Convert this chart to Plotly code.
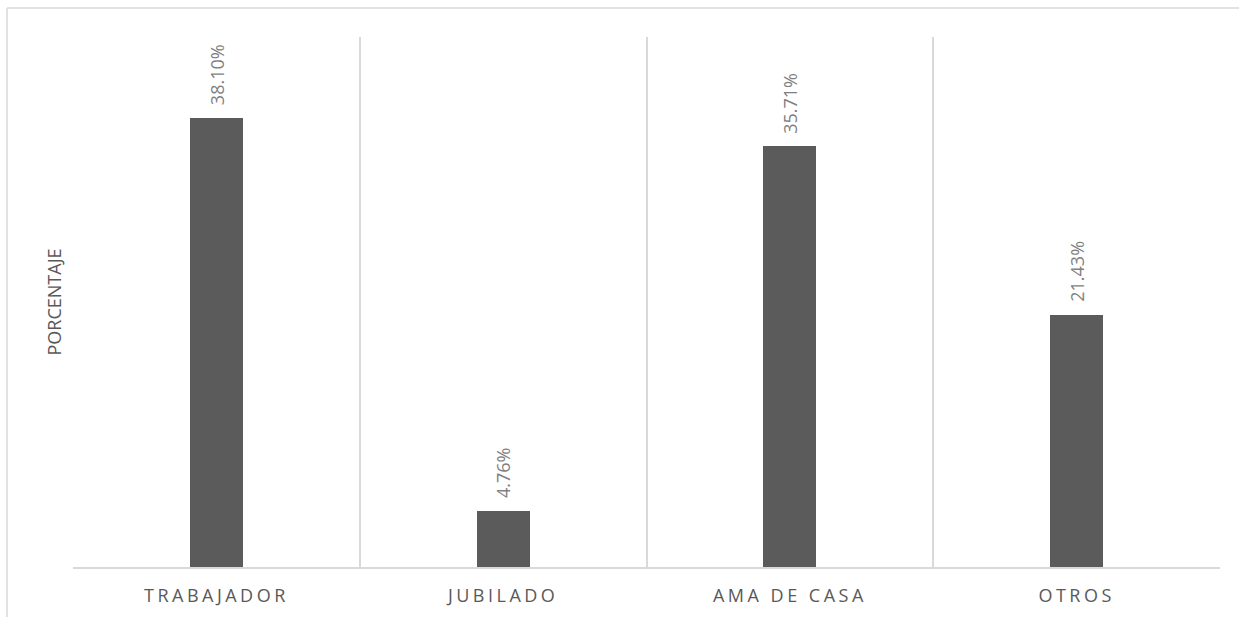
import plotly.graph_objects as go

# Distribución por ocupación (porcentaje)
categorias = ["TRABAJADOR", "JUBILADO", "AMA DE CASA", "OTROS"]
porcentajes = [38.10, 4.76, 35.71, 21.43]
titulo_y = "PORCENTAJE"

W, H = 1239, 617
L, R, T, B = 73, 19, 37, 50
plot_w = W - L - R
plot_h = H - T - B

BAR = "#5b5b5b"
GRID = "#d9d9d9"
TXT = "#595959"
LBL = "#7f7f7f"
FONT = "Open Sans"

pos = list(range(len(categorias)))

fig = go.Figure()
fig.add_trace(go.Bar(
    x=pos,
    y=porcentajes,
    width=0.185,
    marker=dict(color=BAR, line=dict(width=0)),
    hoverinfo="skip",
))

# etiquetas de valor verticales sobre cada barra
for xi, v in zip(pos, porcentajes):
    fig.add_annotation(
        x=xi, y=v, xref="x", yref="y",
        text=f"{v:.2f}%",
        textangle=-90,
        showarrow=False,
        yanchor="bottom", xanchor="center",
        yshift=11,
        font=dict(family=FONT, size=18, color=LBL),
    )

# borde exterior del gráfico (izquierda y arriba)
def px_x(p):
    return (p - L) / plot_w

def px_y(p):
    return (H - B - p) / plot_h

fig.add_shape(type="line", xref="paper", yref="paper",
              x0=px_x(7), x1=px_x(W + 5), y0=px_y(8), y1=px_y(8),
              line=dict(color=GRID, width=1.5), layer="below")
fig.add_shape(type="line", xref="paper", yref="paper",
              x0=px_x(7), x1=px_x(7), y0=px_y(8), y1=px_y(H + 5),
              line=dict(color=GRID, width=1.5), layer="below")

limites = [p - 0.5 for p in pos] + [pos[-1] + 0.5]

fig.update_layout(
    width=W, height=H, autosize=False,
    margin=dict(l=L, r=R, t=T, b=B),
    paper_bgcolor="white", plot_bgcolor="white",
    showlegend=False,
    bargap=0,
    font=dict(family=FONT, color=TXT),
    xaxis=dict(
        range=[-0.5, len(categorias) - 0.5],
        tickmode="array", tickvals=pos, ticktext=categorias,
        tickfont=dict(family=FONT, size=18, color=TXT),
        ticks="", showgrid=False, zeroline=False,
        ticklabelstandoff=12,
        automargin=False,
        showline=True, linecolor=GRID, linewidth=1.5,
        minor=dict(tickvals=limites, showgrid=True, gridcolor=GRID, gridwidth=1.5, ticks=""),
        fixedrange=True,
    ),
    yaxis=dict(
        range=[0, 45],
        showticklabels=False, ticks="", showgrid=False, zeroline=False,
        showline=False, automargin=False,
        title=dict(text=titulo_y, font=dict(family=FONT, size=18, color=TXT), standoff=5),
        fixedrange=True,
    ),
)

# espaciado entre letras de las etiquetas del eje x
post = """
document.querySelectorAll('.xtick text').forEach(function(t){
  t.style.letterSpacing = '3.5px';
});
"""

fig.write_html("out.html", post_script=post, config={"displayModeBar": False})
